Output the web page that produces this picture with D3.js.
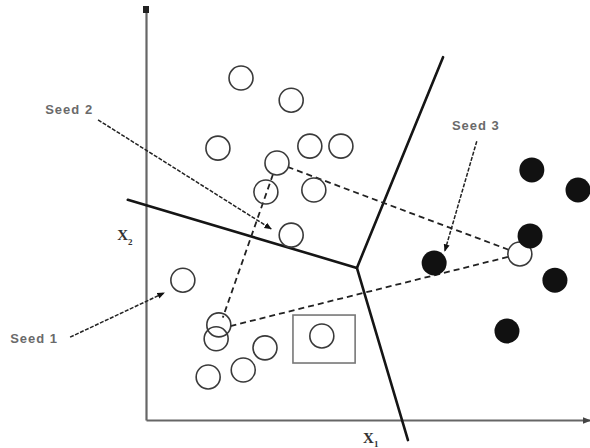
<!DOCTYPE html>
<html>
<head>
<meta charset="utf-8">
<script src="https://cdn.jsdelivr.net/npm/d3@7"></script>
<style>
  html, body { margin: 0; padding: 0; background: #fff; }
  #chart { width: 590px; height: 448px; }
  .seed-label { font-family: "Liberation Sans", Arial, sans-serif; font-size: 13px; font-weight: bold; fill: #6a6a6a; letter-spacing: 1px; }
  .axis-label { font-family: "Liberation Serif", serif; font-size: 15px; font-weight: bold; fill: #333; }
</style>
</head>
<body>
<div id="chart"></div>
<script>
// Diagrama k-means: pontos, sementes e fronteiras (unidades 0-100 nos dois eixos)

// Pontos abertos (cluster da esquerda + um perto do cluster da direita)
const openPoints = [
  [21.4, 83.4], [32.7, 78.0], [16.2, 66.3], [36.9, 66.8], [43.9, 66.8],
  [29.5, 62.7], [27.0, 55.6], [37.8, 56.1], [32.7, 45.1], [8.3, 34.1],
  [16.4, 23.2], [15.8, 19.8], [26.8, 17.6], [21.9, 12.2], [14.0, 10.5],
  [39.6, 20.5], [84.2, 40.5]
];
// Pontos pretos (cluster da direita)
const filledPoints = [
  [86.9, 61.0], [97.3, 56.1], [86.5, 44.9], [64.9, 38.3], [92.1, 34.1], [81.3, 21.7]
];
// Triângulo tracejado ligando as sementes
const seedTriangle = [[29.5, 62.7], [16.4, 22.2], [84.2, 40.5]];
// Fronteiras (linhas sólidas a partir da junção)
const boundaryJunction = [47.5, 37.1];
const boundaryEnds = [[-4.1, 53.7], [66.9, 88.5], [59.0, -4.9]];
// Quadrado em volta do ponto destacado
const highlightBox = [[33.1, 25.6], [47.1, 13.9]];
// Rótulos das sementes e setas
const seedLabels = ['Seed 2', 'Seed 3', 'Seed 1'];
const seedLabelPos = [[-22.7, 74.6], [68.9, 70.7], [-30.6, 18.8]];
const seedArrows = [
  [[-10.8, 73.2], [28.2, 46.6]],
  [[74.5, 68.0], [67.3, 41.2]],
  [[-17.1, 20.2], [4.1, 31.0]]
];
const axisLabels = ['X', 'X'];
const axisSubs = ['1', '2'];

const width = 590, height = 448;

const svg = d3.select('#chart').append('svg')
  .attr('width', width)
  .attr('height', height);

const x = d3.scaleLinear().domain([0, 100]).range([146, 590]);
const y = d3.scaleLinear().domain([0, 100]).range([420, 10]);

const defs = svg.append('defs');
defs.append('marker')
  .attr('id', 'arrow')
  .attr('viewBox', '0 0 10 10')
  .attr('refX', 9).attr('refY', 5)
  .attr('markerWidth', 5).attr('markerHeight', 5)
  .attr('orient', 'auto')
  .append('path')
  .attr('d', 'M0,1 L10,5 L0,9 Z')
  .attr('fill', '#111');
defs.append('marker')
  .attr('id', 'axis-arrow')
  .attr('viewBox', '0 0 10 10')
  .attr('refX', 9).attr('refY', 5)
  .attr('markerWidth', 4).attr('markerHeight', 4)
  .attr('orient', 'auto')
  .append('path')
  .attr('d', 'M0,1 L10,5 L0,9 Z')
  .attr('fill', '#444');

// Eixos (sem ticks)
const xAxis = svg.append('g')
  .attr('transform', `translate(0,${y(0)})`)
  .call(d3.axisBottom(x).tickValues([]).tickSizeOuter(0));
xAxis.select('.domain').attr('stroke', '#666').attr('stroke-width', 2.2)
  .attr('marker-end', 'url(#axis-arrow)');

const yAxis = svg.append('g')
  .attr('transform', `translate(${x(0)},0)`)
  .call(d3.axisLeft(y).tickValues([]).tickSizeOuter(0));
yAxis.select('.domain').attr('stroke', '#666').attr('stroke-width', 2.2);
svg.append('rect')
  .attr('x', x(0) - 3).attr('y', y(100) - 4)
  .attr('width', 6).attr('height', 7)
  .attr('fill', '#222');

// Fronteiras
svg.selectAll('.boundary')
  .data(boundaryEnds)
  .enter()
  .append('line')
  .attr('class', 'boundary')
  .attr('x1', x(boundaryJunction[0])).attr('y1', y(boundaryJunction[1]))
  .attr('x2', d => x(d[0])).attr('y2', d => y(d[1]))
  .attr('stroke', '#151515')
  .attr('stroke-width', 2.6)
  .attr('stroke-linecap', 'round');

// Quadrado destacado
svg.append('rect')
  .attr('x', x(highlightBox[0][0]))
  .attr('y', y(highlightBox[0][1]))
  .attr('width', x(highlightBox[1][0]) - x(highlightBox[0][0]))
  .attr('height', y(highlightBox[1][1]) - y(highlightBox[0][1]))
  .attr('fill', 'none')
  .attr('stroke', '#777')
  .attr('stroke-width', 1.6);

const r = 12;

// Triângulo tracejado, recortado na borda dos círculos
const segs = d3.range(3).map(i => [seedTriangle[i], seedTriangle[(i + 1) % 3]]);
svg.selectAll('.tri')
  .data(segs)
  .enter()
  .append('line')
  .attr('class', 'tri')
  .each(function (d) {
    const x1 = x(d[0][0]), y1 = y(d[0][1]), x2 = x(d[1][0]), y2 = y(d[1][1]);
    const len = Math.hypot(x2 - x1, y2 - y1);
    const ux = (x2 - x1) / len, uy = (y2 - y1) / len;
    d3.select(this)
      .attr('x1', x1 + ux * r).attr('y1', y1 + uy * r)
      .attr('x2', x2 - ux * r).attr('y2', y2 - uy * r);
  })
  .attr('stroke', '#222')
  .attr('stroke-width', 1.8)
  .attr('stroke-dasharray', '6,4');

// Pontos abertos
svg.selectAll('.open')
  .data(openPoints)
  .enter()
  .append('circle')
  .attr('class', 'open')
  .attr('cx', d => x(d[0]))
  .attr('cy', d => y(d[1]))
  .attr('r', r)
  .attr('fill', 'none')
  .attr('stroke', '#3a3a3a')
  .attr('stroke-width', 1.6);

// Pontos pretos
svg.selectAll('.filled')
  .data(filledPoints)
  .enter()
  .append('circle')
  .attr('class', 'filled')
  .attr('cx', d => x(d[0]))
  .attr('cy', d => y(d[1]))
  .attr('r', 12.5)
  .attr('fill', '#111');

// Setas das sementes
svg.selectAll('.seed-arrow')
  .data(seedArrows)
  .enter()
  .append('line')
  .attr('class', 'seed-arrow')
  .attr('x1', d => x(d[0][0])).attr('y1', d => y(d[0][1]))
  .attr('x2', d => x(d[1][0])).attr('y2', d => y(d[1][1]))
  .attr('stroke', '#222')
  .attr('stroke-width', 1.5)
  .attr('stroke-dasharray', '4,1.5')
  .attr('marker-end', 'url(#arrow)');

svg.selectAll('.seed-label')
  .data(seedLabels)
  .enter()
  .append('text')
  .attr('class', 'seed-label')
  .attr('x', (d, i) => x(seedLabelPos[i][0]))
  .attr('y', (d, i) => y(seedLabelPos[i][1]))
  .text(d => d);

// Rótulos dos eixos
const xl = svg.append('text').attr('class', 'axis-label')
  .attr('x', x(48.9)).attr('y', y(-5.6));
xl.append('tspan').text(axisLabels[0]);
xl.append('tspan').attr('dy', 4).attr('font-size', 9).text(axisSubs[0]);

const yl = svg.append('text').attr('class', 'axis-label')
  .attr('x', x(-6.5)).attr('y', y(43.9));
yl.append('tspan').text(axisLabels[1]);
yl.append('tspan').attr('dy', 5).attr('font-size', 9).text(axisSubs[1]);
</script>
</body>
</html>
